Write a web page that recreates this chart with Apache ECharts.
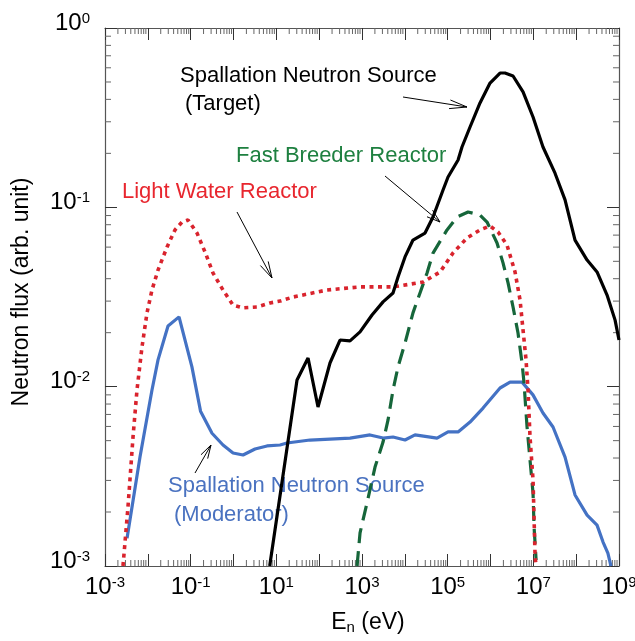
<!DOCTYPE html>
<html>
<head>
<meta charset="utf-8">
<script src="https://cdn.jsdelivr.net/npm/echarts@6/dist/echarts.min.js"></script>
<style>
  html, body { margin: 0; padding: 0; background: #fff; }
  #chart { width: 635px; height: 641px; }
</style>
</head>
<body>
<div id="chart"></div>
<script>
const FONT = '"Liberation Sans", Arial, Helvetica, sans-serif';

// Light Water Reactor spectrum: energy (eV) and flux (arb. unit)
const lwrEnergy = [0.00263, 0.00344, 0.00451, 0.00558, 0.00731, 0.00957, 0.0125, 0.0173, 0.0281, 0.043,
  0.0628, 0.0867, 0.1406, 0.216, 0.333, 0.569, 0.975, 1.67, 3.54, 7.11, 12.2, 24.5, 152, 900, 5300,
  26600, 66400, 1.33e5, 2.83e5, 5.69e5, 9.75e5, 1.5e6, 2.43e6, 3.74e6, 4.9e6, 5.75e6, 6.76e6, 7.52e6,
  8.37e6, 9.84e6, 1.1e7, 1.16e7];
const lwrFlux = [0.001, 0.00213, 0.00524, 0.00958, 0.01664, 0.0258, 0.0346, 0.0447, 0.0601, 0.0748,
  0.0828, 0.085, 0.0719, 0.0564, 0.043, 0.0346, 0.0285, 0.0275, 0.0278, 0.0293, 0.030, 0.0316, 0.0346,
  0.036, 0.036, 0.0383, 0.0436, 0.0556, 0.0675, 0.0748, 0.0787, 0.0728, 0.0616, 0.0436, 0.0304, 0.0207,
  0.0141, 0.00958, 0.00524, 0.00302, 0.00112, 0.001];

// Fast Breeder Reactor spectrum
const fbrEnergy = [766, 900, 1310, 2014, 3097, 4055, 5300, 6935, 10100, 15500, 22600, 33000, 45500,
  96600, 1.66e5, 2.99e5, 5.69e5, 8.3e5, 1.42e6, 1.96e6, 2.57e6, 3.36e6, 4.39e6, 5.45e6, 6.07e6, 7.13e6,
  8.37e6, 9.84e6, 1.04e7, 1.16e7];
const fbrFlux = [0.001, 0.00153, 0.00225, 0.00356, 0.00491, 0.00652, 0.00958, 0.0129, 0.0175, 0.0258,
  0.0333, 0.043, 0.0556, 0.0748, 0.0883, 0.0942, 0.0906, 0.0828, 0.0633, 0.049, 0.0379, 0.0278, 0.0199,
  0.01355, 0.01047, 0.00596, 0.0039, 0.00255, 0.00165, 0.00108];

// Spallation source, target spectrum
const targetEnergy = [7.0, 30.4, 55, 94, 179, 307, 525, 900, 1714, 3100, 5300, 6935, 10100, 15500,
  29600, 45500, 78000, 1.02e5, 1.75e5, 2.16e5, 3.33e5, 5.69e5, 9.75e5, 1.67e6, 2.18e6, 3.36e6, 5.75e6,
  9.84e6, 1.68e7, 3.21e7, 5.5e7, 9.4e7, 1.8e8, 3.07e8, 5.26e8, 8.1e8, 1e9];
const targetFlux = [0.001, 0.0109, 0.01445, 0.0077, 0.01355, 0.0182, 0.018, 0.0202, 0.0251, 0.0297,
  0.0333, 0.0409, 0.0529, 0.0657, 0.0719, 0.0883, 0.125, 0.1476, 0.1836, 0.217, 0.2805, 0.382, 0.493,
  0.561, 0.561, 0.540, 0.44, 0.319, 0.217, 0.155, 0.11, 0.0657, 0.0508, 0.0436, 0.0324, 0.0235, 0.0182];

// Spallation source, moderator spectrum
const moderatorEnergy = [0.00327, 0.00656, 0.0125, 0.0173, 0.0296, 0.0535, 0.107, 0.17, 0.315, 0.569,
  0.975, 1.67, 3.18, 6.06, 12.2, 17.7, 61, 525, 1540, 3100, 5300, 10100, 17300, 56500, 1.02e5, 1.75e5,
  3.33e5, 6.7e5, 1.67e6, 2.86e6, 5.45e6, 9.8e6, 1.68e7, 2.88e7, 5.5e7, 9.4e7, 1.8e8, 3.07e8, 4.24e8,
  5.5e8, 6.5e8];
const moderatorFlux = [0.00143, 0.00405, 0.00958, 0.0141, 0.0218, 0.0245, 0.0129, 0.0073, 0.0055,
  0.00473, 0.00427, 0.00416, 0.00449, 0.00467, 0.00473, 0.00485, 0.00504, 0.00517, 0.00538, 0.00517,
  0.00524, 0.00504, 0.00538, 0.00517, 0.00559, 0.00559, 0.00635, 0.0076, 0.00983, 0.0106, 0.0106, 0.009,
  0.00713, 0.00596, 0.00405, 0.00249, 0.00192, 0.00169, 0.00136, 0.00118, 0.001];

// axis ranges (powers of ten)
const xMinExp = -3, xMaxExp = 9;
const yMinExp = -3, yMaxExp = 0;

const pairs = (xs, ys) => xs.map((x, i) => [x, ys[i]]);

// minor ticks at 2..9 x 10^k
const minorX = [];
for (let e = xMinExp; e < xMaxExp; e++) for (let m = 2; m <= 9; m++) minorX.push([m * Math.pow(10, e), 0.01]);
const minorY = [];
for (let e = yMinExp; e < yMaxExp; e++) for (let m = 2; m <= 9; m++) minorY.push([1, m * Math.pow(10, e)]);

const powLabel = (v) => '{b|10}{s|' + Math.round(Math.log10(v)) + '}';
const labelRich = {
  b: { fontSize: 24, fontFamily: FONT, color: '#000', lineHeight: 24, verticalAlign: 'bottom' },
  s: { fontSize: 15, fontFamily: FONT, color: '#000', lineHeight: 15, padding: [0, 0, 13, 0], verticalAlign: 'top' }
};

const AXIS_COLOR = '#555';
const TICK_COLOR = '#333';
const MINOR_COLOR = '#666';

function logAxis(extra) {
  return Object.assign({
    type: 'log', logBase: 10,
    axisLine: { show: true, lineStyle: { color: AXIS_COLOR, width: 1.2 } },
    axisTick: { show: true, inside: true, length: 12, lineStyle: { color: TICK_COLOR, width: 1 } },
    splitLine: { show: false },
    minorTick: { show: false },
    interval: 1
  }, extra);
}

const chart = echarts.init(document.getElementById('chart'), null, { renderer: 'canvas' });

function arrow(x0, y0, x1, y1, len, ang) {
  const d = Math.atan2(y1 - y0, x1 - x0);
  const a = ang * Math.PI / 180;
  const p1 = [x1 - len * Math.cos(d - a), y1 - len * Math.sin(d - a)];
  const p2 = [x1 - len * Math.cos(d + a), y1 - len * Math.sin(d + a)];
  const st = { stroke: '#000', lineWidth: 1, fill: null };
  return [
    { type: 'line', shape: { x1: x0, y1: y0, x2: x1, y2: y1 }, style: st, z: 5 },
    { type: 'polyline', shape: { points: [p1, [x1, y1], p2] }, style: st, z: 5 }
  ];
}

function label(text, x, y, color) {
  return { type: 'text', z: 1, style: { text, x, y, fill: color, font: '22px ' + FONT, verticalAlign: 'middle', align: 'left' } };
}

const option = {
  animation: false,
  backgroundColor: '#fff',
  grid: { left: 105, right: 16, top: 28, bottom: 75, containLabel: false, outerBoundsMode: 'none' },
  xAxis: [
    logAxis({
      min: Math.pow(10, xMinExp), max: Math.pow(10, xMaxExp), position: 'bottom',
      axisLabel: {
        margin: 9,
        formatter: (v) => (Math.abs(Math.round(Math.log10(v)) % 2) === 1 ? powLabel(v) : ''),
        rich: labelRich
      },
      name: '{e|E}{n|n}{e| (eV)}', nameLocation: 'middle', nameGap: 45, nameMoveOverlap: false,
      nameTextStyle: {
        padding: [0, 0, 0, 12],
        rich: {
          e: { fontSize: 23, fontFamily: FONT, color: '#000', lineHeight: 24, verticalAlign: 'top' },
          n: { fontSize: 15, fontFamily: FONT, color: '#000', lineHeight: 15, padding: [24, 0, 0, 0], verticalAlign: 'bottom' }
        }
      }
    }),
    logAxis({
      min: Math.pow(10, xMinExp), max: Math.pow(10, xMaxExp), position: 'top',
      axisLabel: { show: false }
    })
  ],
  yAxis: [
    logAxis({
      min: Math.pow(10, yMinExp), max: Math.pow(10, yMaxExp), position: 'left',
      axisLabel: { margin: 15, formatter: powLabel, rich: labelRich, padding: [0, 0, 10, 0] },
      name: 'Neutron flux (arb. unit)', nameLocation: 'middle', nameGap: 72, nameMoveOverlap: false,
      nameTextStyle: { fontSize: 23, fontFamily: FONT, color: '#000', padding: [0, 0, 0, 10] }
    }),
    logAxis({
      min: Math.pow(10, yMinExp), max: Math.pow(10, yMaxExp), position: 'right',
      axisLabel: { show: false }
    })
  ],
  series: [
    {
      type: 'custom', name: 'minorX', data: minorX, silent: true, z: 1,
      renderItem(params, api) {
        const cs = params.coordSys;
        const px = api.coord([api.value(0), api.value(1)])[0];
        const st = { stroke: MINOR_COLOR, lineWidth: 1 };
        return { type: 'group', children: [
          { type: 'line', shape: { x1: px, y1: cs.y + cs.height, x2: px, y2: cs.y + cs.height - 6 }, style: st },
          { type: 'line', shape: { x1: px, y1: cs.y, x2: px, y2: cs.y + 6 }, style: st }
        ] };
      }
    },
    {
      type: 'custom', name: 'minorY', data: minorY, silent: true, z: 1,
      renderItem(params, api) {
        const cs = params.coordSys;
        const py = api.coord([api.value(0), api.value(1)])[1];
        const st = { stroke: MINOR_COLOR, lineWidth: 1 };
        return { type: 'group', children: [
          { type: 'line', shape: { x1: cs.x, y1: py, x2: cs.x + 6, y2: py }, style: st },
          { type: 'line', shape: { x1: cs.x + cs.width, y1: py, x2: cs.x + cs.width - 6, y2: py }, style: st }
        ] };
      }
    },
    {
      type: 'line', name: 'Spallation Neutron Source (Moderator)', data: pairs(moderatorEnergy, moderatorFlux),
      showSymbol: false, clip: true, z: 3,
      lineStyle: { color: '#4472c4', width: 3.2 }
    },
    {
      type: 'line', name: 'Fast Breeder Reactor', data: pairs(fbrEnergy, fbrFlux),
      showSymbol: false, clip: true, z: 4,
      lineStyle: { color: '#16663a', width: 3.2, type: [15, 8] }
    },
    {
      type: 'line', name: 'Light Water Reactor', data: pairs(lwrEnergy, lwrFlux),
      showSymbol: false, clip: true, z: 5,
      lineStyle: { color: '#d9232d', width: 3.6, type: [4, 4.5] }
    },
    {
      type: 'line', name: 'Spallation Neutron Source (Target)', data: pairs(targetEnergy, targetFlux),
      showSymbol: false, clip: true, z: 6,
      lineStyle: { color: '#000', width: 3.2 }
    }
  ],
  graphic: [
    label('Spallation Neutron Source', 180, 75.5, '#000'),
    label('(Target)', 185, 104, '#000'),
    label('Fast Breeder Reactor', 236, 156, '#1e8040'),
    label('Light Water Reactor', 122, 192, '#e8262e'),
    label('Spallation Neutron Source', 168, 485.5, '#4a72c0'),
    label('(Moderator)', 174, 515, '#4a72c0'),
    ...arrow(403, 97, 467, 107, 18, 14),
    ...arrow(385, 176, 440, 222, 14, 18),
    ...arrow(237, 212, 272, 278, 17, 15),
    ...arrow(195, 473, 211, 445, 14, 16)
  ]
};

chart.setOption(option);
</script>
</body>
</html>
